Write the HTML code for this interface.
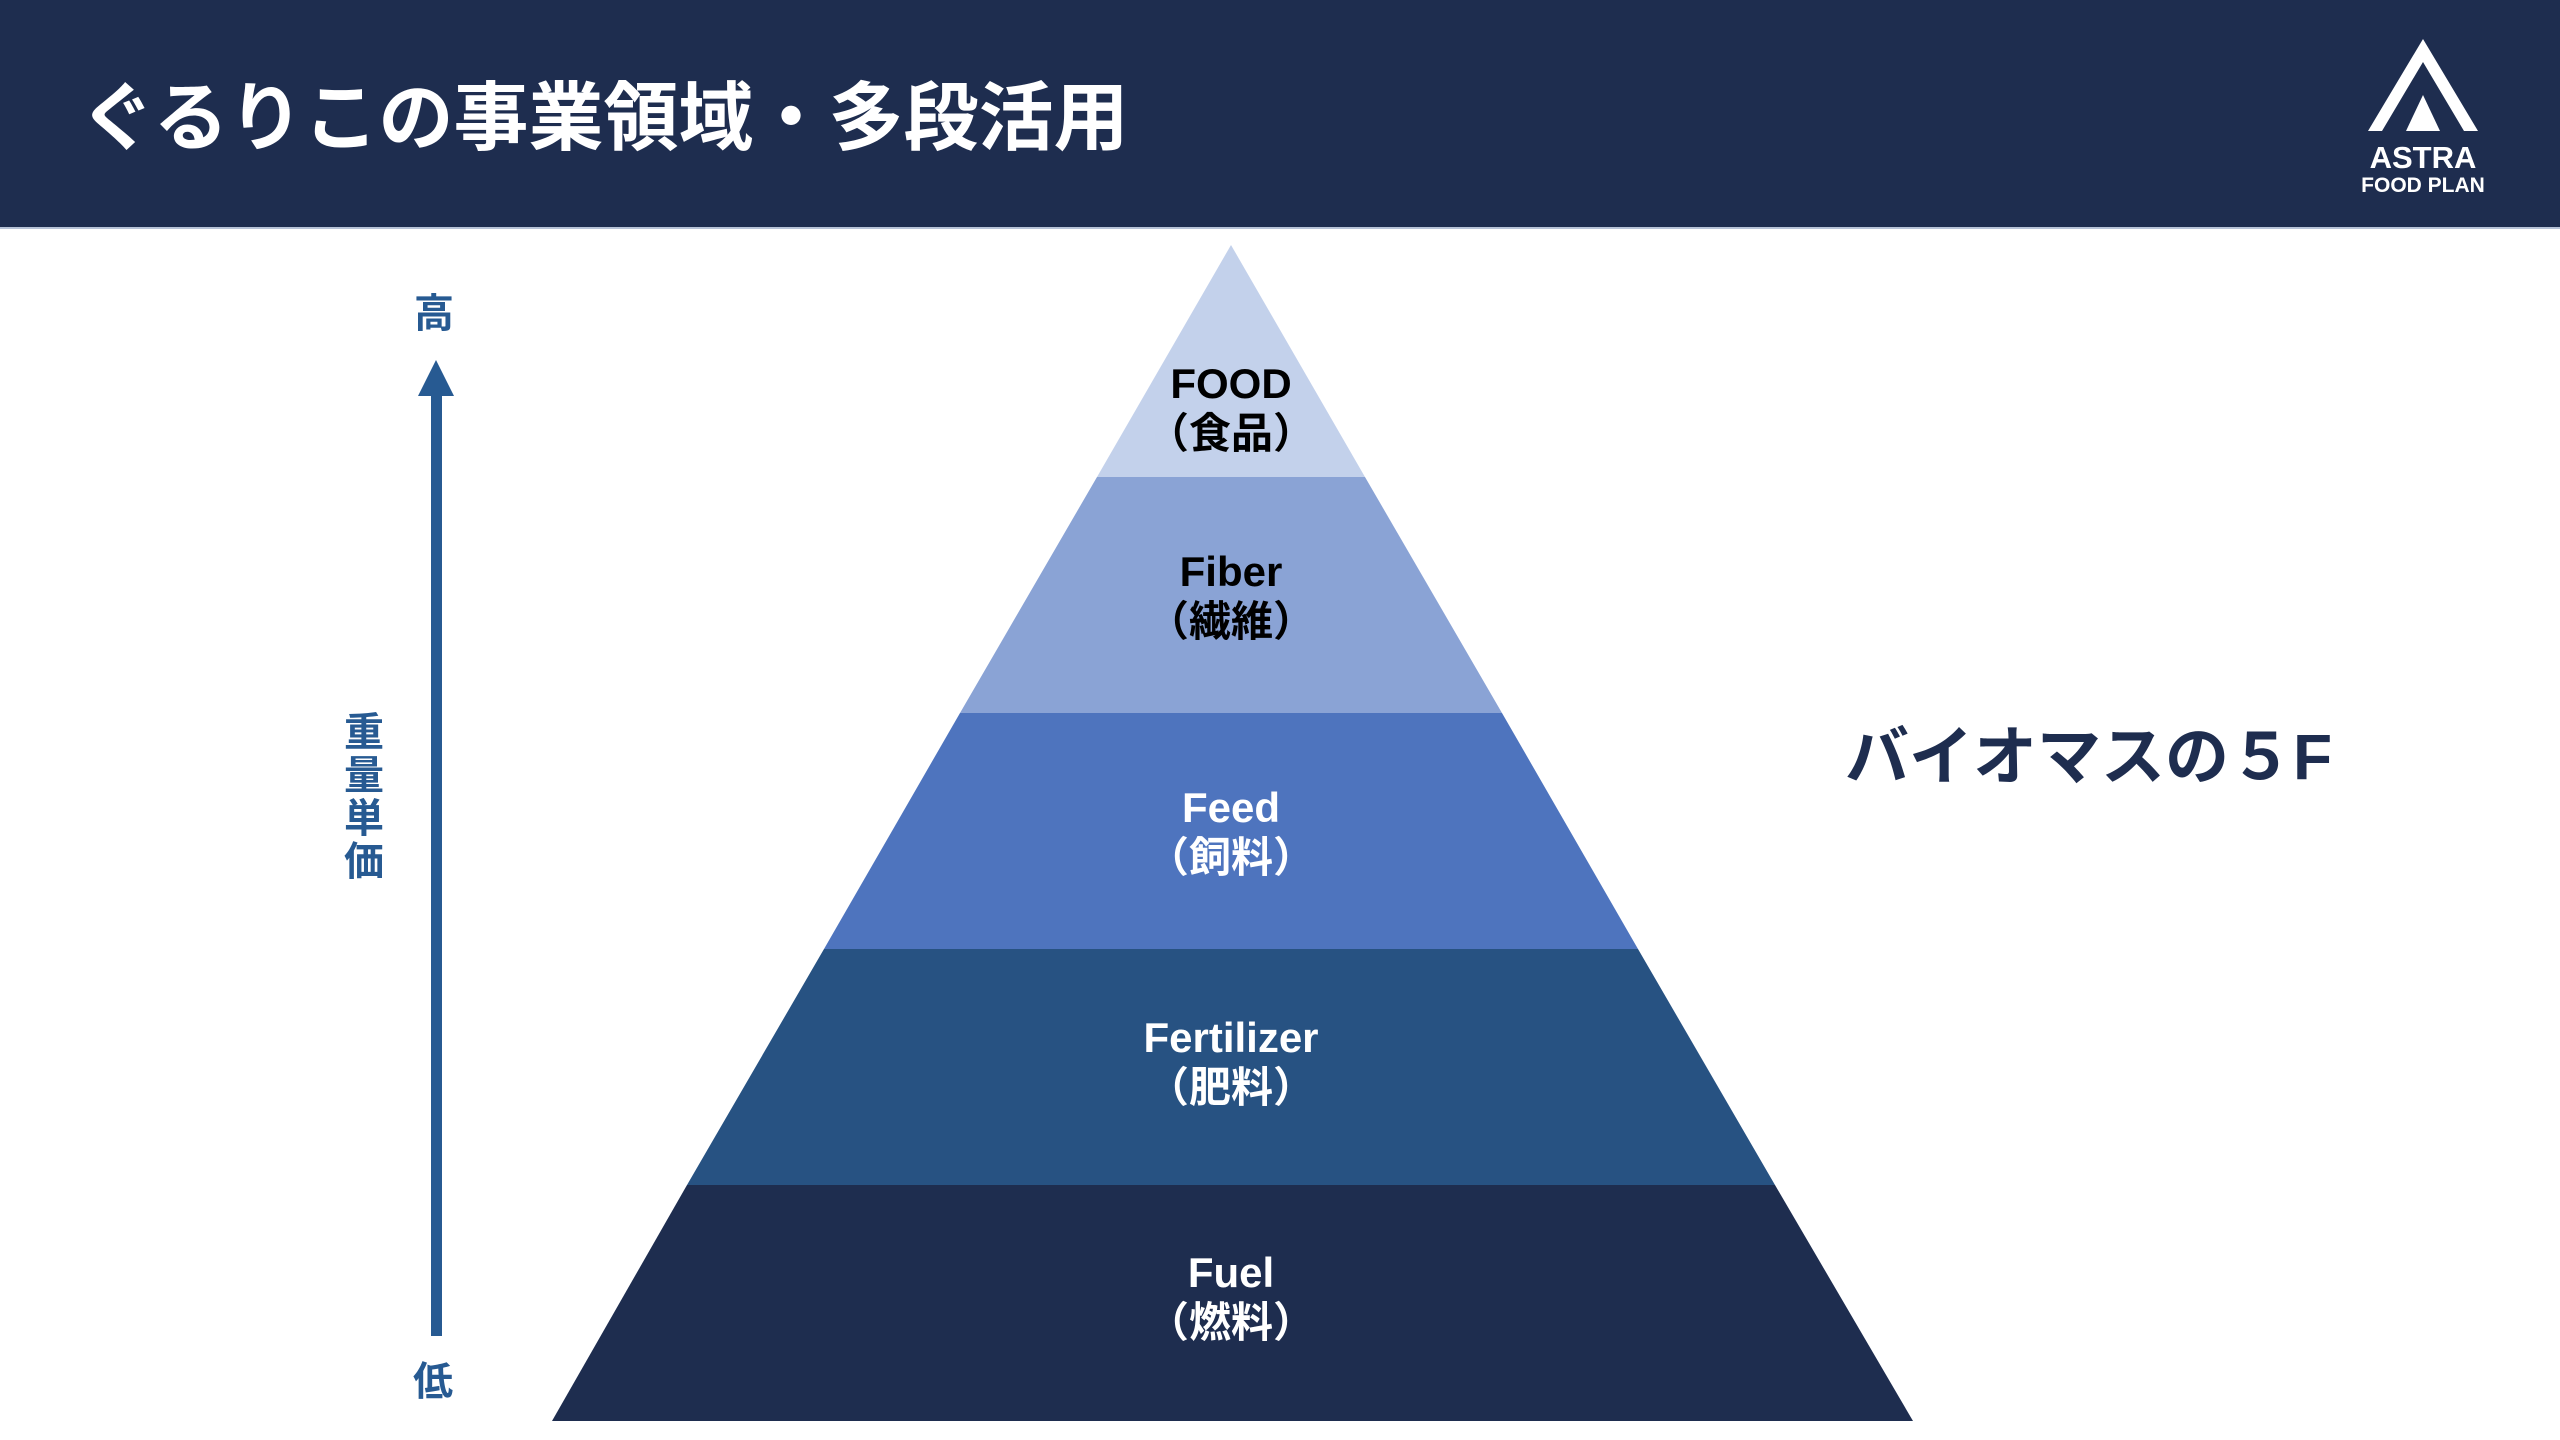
<!DOCTYPE html>
<html><head><meta charset="utf-8"><style>
body{margin:0;width:2560px;height:1440px;background:#fff;overflow:hidden}
svg{display:block}
text{font-family:"Liberation Sans","Noto Sans CJK JP",sans-serif;font-weight:bold}
</style></head><body>
<svg width="2560" height="1440" viewBox="0 0 2560 1440">
<rect x="0" y="0" width="2560" height="227" fill="#1e2d4f"/>
<rect x="0" y="227" width="2560" height="2" fill="#b7c3d8"/>
<text x="80" y="144" font-size="75" fill="#fff">ぐるりこの事業領域・多段活用</text>
<!-- logo -->
<polygon points="2423,39 2478,131 2464,131 2423,62 2382,131 2368,131" fill="#fff"/>
<polygon points="2423,95 2440,131 2406,131" fill="#fff"/>
<text x="2423" y="168" font-size="31" fill="#fff" text-anchor="middle" font-weight="normal">ASTRA</text>
<text x="2423" y="192" font-size="21" fill="#fff" text-anchor="middle" font-weight="normal">FOOD PLAN</text>
<!-- pyramid -->
<polygon points="1231,245 1365,477 1097,477" fill="#c3d1eb"/>
<polygon points="1097,477 1365,477 1502,713 960,713" fill="#8aa3d5"/>
<polygon points="960,713 1502,713 1638,949 824,949" fill="#4e74be"/>
<polygon points="824,949 1638,949 1775,1185 687,1185" fill="#275282"/>
<polygon points="687,1185 1775,1185 1913,1421 552,1421" fill="#1e2d4f"/>
<g font-size="42" text-anchor="middle">
<text x="1231" y="398" fill="#000">FOOD</text>
<text x="1231" y="448" fill="#000">（食品）</text>
<text x="1231" y="586" fill="#000">Fiber</text>
<text x="1231" y="636" fill="#000">（繊維）</text>
<text x="1231" y="822" fill="#fff">Feed</text>
<text x="1231" y="872" fill="#fff">（飼料）</text>
<text x="1231" y="1052" fill="#fff">Fertilizer</text>
<text x="1231" y="1102" fill="#fff">（肥料）</text>
<text x="1231" y="1287" fill="#fff">Fuel</text>
<text x="1231" y="1337" fill="#fff">（燃料）</text>
</g>
<!-- arrow -->
<rect x="431" y="390" width="11" height="946" fill="#275a92"/>
<polygon points="436,360 454,396 418,396" fill="#275a92"/>
<g font-size="40" fill="#275a92" text-anchor="middle">
<text x="434" y="327">高</text>
<text x="433" y="1395">低</text>
<text x="364" y="746">重</text>
<text x="364" y="789">量</text>
<text x="364" y="832">単</text>
<text x="364" y="875">価</text>
</g>
<text x="1845" y="779" font-size="64" fill="#1e2d4f">バイオマスの５F</text>
</svg>
</body></html>
